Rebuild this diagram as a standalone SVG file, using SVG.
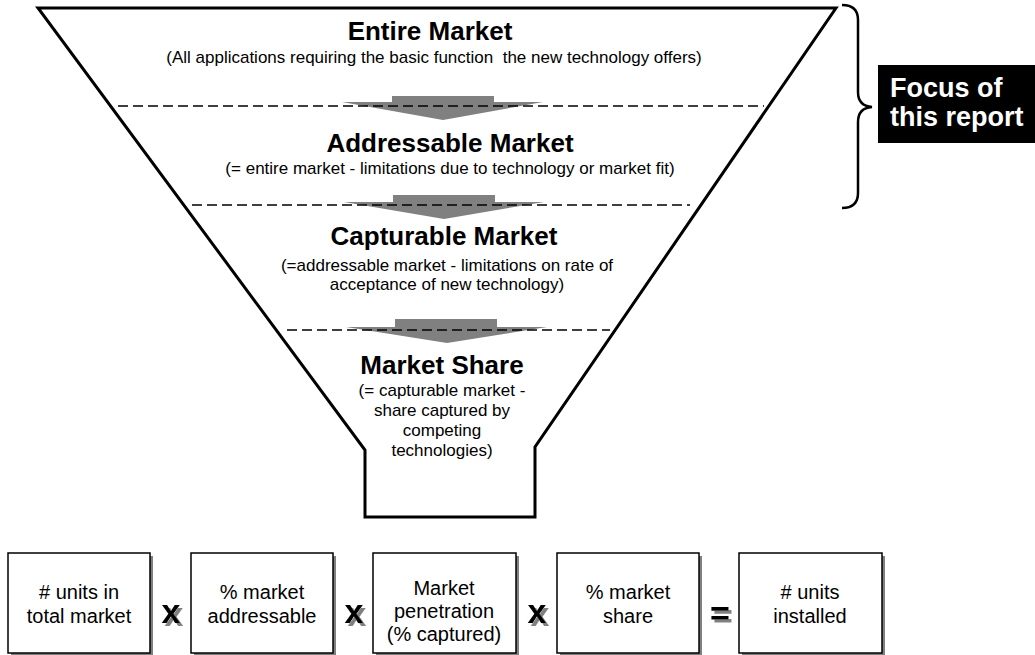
<svg xmlns="http://www.w3.org/2000/svg" width="1035" height="655" viewBox="0 0 1035 655">
<style>
.t{font-family:"Liberation Sans",Arial,sans-serif;font-weight:bold;font-size:26px;fill:#000;text-anchor:middle}
.s{font-family:"Liberation Sans",Arial,sans-serif;font-size:17px;fill:#000;text-anchor:middle}
.b{font-family:"Liberation Sans",Arial,sans-serif;font-size:20px;fill:#000;text-anchor:middle}
.f{font-family:"Liberation Sans",Arial,sans-serif;font-weight:bold;font-size:27px;fill:#fff}
.op{font-family:"Liberation Sans",Arial,sans-serif;font-weight:bold;font-size:34px;text-anchor:middle;fill:#000}
.dash{stroke:#000;stroke-width:1.5;stroke-dasharray:10,5;fill:none}
.arr{fill:#808080}
.box{fill:#fff;stroke:#000;stroke-width:1.5}
.shadow{fill:#808080}
</style>
<defs>
<filter id="opsh" x="-50%" y="-50%" width="200%" height="200%">
<feOffset in="SourceAlpha" dx="3" dy="3" result="o"/>
<feFlood flood-color="#808080"/>
<feComposite in2="o" operator="in" result="g"/>
<feMerge><feMergeNode in="g"/><feMergeNode in="SourceGraphic"/></feMerge>
</filter>
</defs>
<rect width="1035" height="655" fill="#fff"/>
<g id="funnel">
<polygon points="38,8 836,8 535,447 535,517 365,517 365,450" fill="#fff" stroke="#000" stroke-width="3" stroke-linejoin="miter"/>
</g>
<g id="connectors">
<polygon class="arr" points="392,96 494,96 494,102 543,102 443,120 342,102 392,102"/>
<polygon class="arr" points="393,195 495,195 495,202 544,202 444,219 344,202 393,202"/>
<polygon class="arr" points="395,319 497,319 497,327 547,327 447,343 346,327 395,327"/>
<line class="dash" x1="118" y1="106" x2="764" y2="106"/>
<line class="dash" x1="192" y1="205" x2="690" y2="205"/>
<line class="dash" x1="287" y1="330" x2="610" y2="330"/>
</g>
<g id="entire-market">
<text class="t" x="430" y="40">Entire Market</text>
<text class="s" x="434" y="63" xml:space="preserve">(All applications requiring the basic function  the new technology offers)</text>
</g>
<g id="addressable-market">
<text class="t" x="450" y="152">Addressable Market</text>
<text class="s" x="450" y="174">(= entire market - limitations due to technology or market fit)</text>
</g>
<g id="capturable-market">
<text class="t" x="444" y="245">Capturable Market</text>
<text class="s" x="447" y="271">(=addressable market - limitations on rate of</text>
<text class="s" x="447" y="290">acceptance of new technology)</text>
</g>
<g id="market-share">
<text class="t" x="442" y="374">Market Share</text>
<text class="s" x="442" y="396">(= capturable market -</text>
<text class="s" x="442" y="416">share captured by</text>
<text class="s" x="442" y="436">competing</text>
<text class="s" x="442" y="456">technologies)</text>
</g>
<g id="brace">
<path d="M842,5 Q858,5 858,20 L858,92 Q858,106 872,107 Q858,108 858,122 L858,193 Q858,208 842,208" fill="none" stroke="#000" stroke-width="2.5"/>
</g>
<g id="focus">
<rect x="878" y="65" width="157" height="78" fill="#000"/>
<text class="f" x="890" y="97">Focus of</text>
<text class="f" x="890" y="126">this report</text>
</g>
<g id="box-total">
<rect class="shadow" x="11" y="556" width="142" height="100"/>
<rect class="box" x="8" y="553" width="142" height="100"/>
<text class="b" x="79" y="599">#&#160;units in</text>
<text class="b" x="79" y="623">total market</text>
</g>
<g id="box-addressable">
<rect class="shadow" x="194" y="556" width="142" height="100"/>
<rect class="box" x="191" y="553" width="142" height="100"/>
<text class="b" x="262" y="599">% market</text>
<text class="b" x="262" y="623">addressable</text>
</g>
<g id="box-penetration">
<rect class="shadow" x="376" y="556" width="143" height="100"/>
<rect class="box" x="373" y="553" width="143" height="100"/>
<text class="b" x="444" y="595">Market</text>
<text class="b" x="444" y="618">penetration</text>
<text class="b" x="444" y="641">(% captured)</text>
</g>
<g id="box-share">
<rect class="shadow" x="560" y="556" width="142" height="100"/>
<rect class="box" x="557" y="553" width="142" height="100"/>
<text class="b" x="628" y="599">% market</text>
<text class="b" x="628" y="623">share</text>
</g>
<g id="box-installed">
<rect class="shadow" x="742" y="556" width="143" height="100"/>
<rect class="box" x="739" y="553" width="143" height="100"/>
<text class="b" x="810" y="599">#&#160;units</text>
<text class="b" x="810" y="623">installed</text>
</g>
<g id="operators" filter="url(#opsh)">
<text class="op" x="171" y="623">x</text>
<text class="op" x="354" y="623">x</text>
<text class="op" x="537" y="623">x</text>
<text class="op" x="720" y="625">=</text>
</g>
</svg>
